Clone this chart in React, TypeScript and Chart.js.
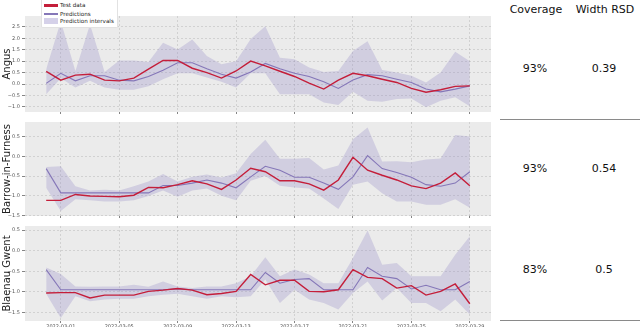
import React, { useEffect, useRef } from "react";
import { Chart, registerables } from "chart.js";

Chart.register(...registerables);

// ---------- data ----------
const dates = [
  "2022-02-28", "2022-03-01", "2022-03-02", "2022-03-03", "2022-03-04", "2022-03-05",
  "2022-03-06", "2022-03-07", "2022-03-08", "2022-03-09", "2022-03-10", "2022-03-11",
  "2022-03-12", "2022-03-13", "2022-03-14", "2022-03-15", "2022-03-16", "2022-03-17",
  "2022-03-18", "2022-03-19", "2022-03-20", "2022-03-21", "2022-03-22", "2022-03-23",
  "2022-03-24", "2022-03-25", "2022-03-26", "2022-03-27", "2022-03-28", "2022-03-29",
];
const xTickLabels = [
  "2022-03-01", "2022-03-05", "2022-03-09", "2022-03-13",
  "2022-03-17", "2022-03-21", "2022-03-25", "2022-03-29",
];

const angusTest = [0.55, 0.17, 0.39, 0.43, 0.17, 0.14, 0.26, 0.65, 1.03, 1.03, 0.69, 0.5, 0.26, 0.57, 1.0, 0.79, 0.56, 0.33, 0.04, -0.22, 0.17, 0.47, 0.36, 0.21, 0.07, -0.19, -0.36, -0.25, -0.1, -0.08];
const angusPred = [0.03, 0.47, 0.14, 0.36, 0.36, 0.17, 0.14, 0.33, 0.6, 0.93, 0.93, 0.67, 0.43, 0.26, 0.53, 0.9, 0.67, 0.47, 0.33, 0.1, -0.19, 0.18, 0.41, 0.36, 0.21, 0.07, -0.22, -0.34, -0.22, -0.08];
const angusLower = [-0.44, 0.25, -0.15, 0.14, -0.15, -0.25, -0.25, -0.1, 0.21, 0.47, 0.47, 0.29, 0.1, -0.15, 0.47, 0.47, -0.44, -0.44, -0.44, -0.8, -0.91, -0.34, -0.73, -0.77, -0.65, -0.63, -1.01, -0.73, -0.58, -0.97];
const angusUpper = [0.65, 2.74, 0.57, 2.6, 0.53, 1.03, 1.03, 0.96, 1.8, 1.51, 1.94, 1.22, 0.86, 1.0, 1.97, 2.52, 1.15, 1.08, 0.72, 0.53, 0.57, 1.44, 1.87, 0.61, 0.5, 0.36, 0.07, 0.5, 1.41, 1.0];

const barrowTest = [-1.12, -1.12, -0.97, -1.01, -1.02, -1.03, -0.99, -0.79, -0.8, -0.72, -0.62, -0.7, -0.84, -0.6, -0.3, -0.39, -0.62, -0.62, -0.7, -0.86, -0.6, -0.02, -0.35, -0.48, -0.6, -0.75, -0.82, -0.68, -0.42, -0.75];
const barrowPred = [-0.31, -0.93, -0.93, -0.93, -0.93, -0.93, -0.93, -0.93, -0.74, -0.74, -0.68, -0.6, -0.68, -0.8, -0.52, -0.25, -0.35, -0.53, -0.53, -0.68, -0.84, -0.52, 0.02, -0.31, -0.41, -0.53, -0.72, -0.76, -0.68, -0.39];
const barrowLower = [-0.8, -1.39, -1.09, -1.12, -1.15, -1.15, -1.12, -1.01, -0.87, -1.03, -0.87, -0.82, -1.0, -1.12, -0.62, -0.5, -0.75, -0.79, -0.82, -1.07, -1.34, -0.72, -0.64, -0.94, -1.15, -1.15, -1.23, -1.23, -1.09, -1.31];
const barrowUpper = [-0.27, -0.25, -0.76, -0.87, -0.85, -0.87, -0.76, -0.64, -0.45, -0.64, -0.52, -0.46, -0.54, -0.43, 0.06, 0.43, -0.06, -0.06, -0.04, -0.33, -0.23, 0.44, 0.74, -0.13, -0.12, -0.15, -0.08, -0.05, 0.55, 0.51];

const blaenauTest = [-1.03, -1.02, -1.02, -1.15, -1.08, -1.08, -1.08, -0.99, -0.96, -0.92, -0.96, -1.07, -1.04, -0.99, -0.58, -0.83, -0.72, -0.72, -0.99, -1.0, -0.95, -0.46, -0.65, -0.68, -0.91, -0.85, -1.08, -0.99, -0.81, -1.29];
const blaenauPred = [-0.46, -0.95, -0.95, -0.95, -0.95, -0.95, -0.95, -0.95, -0.95, -0.93, -0.95, -0.95, -0.95, -0.95, -0.95, -0.53, -0.79, -0.7, -0.68, -0.95, -0.95, -0.95, -0.41, -0.62, -0.68, -0.93, -0.84, -0.95, -0.95, -0.75];
const blaenauLower = [-1.05, -1.64, -1.11, -1.23, -1.19, -1.17, -1.17, -1.11, -1.07, -1.05, -1.11, -1.17, -1.11, -1.13, -1.11, -0.7, -1.27, -0.95, -1.19, -1.27, -1.43, -1.03, -0.75, -1.21, -0.91, -1.27, -1.27, -1.47, -1.19, -1.55];
const blaenauUpper = [-0.41, -0.57, -0.87, -0.88, -0.87, -0.87, -0.83, -0.88, -0.75, -0.87, -0.91, -0.87, -0.87, -0.79, -0.62, -0.16, -0.62, -0.46, -0.58, -0.79, -0.79, -0.18, 0.49, -0.34, -0.3, -0.62, -0.62, -0.62, -0.1, 0.35];

const angusYTicks = [-1.0, -0.5, 0.0, 0.5, 1.0, 1.5, 2.0, 2.5];
const barrowYTicks = [-1.5, -1.0, -0.5, 0.0, 0.5];
const blaenauYTicks = [-1.5, -1.0, -0.5, 0.0, 0.5];
const angusYRange = [-1.22, 2.97];
const barrowYRange = [-1.52, 0.88];
const blaenauYRange = [-1.71, 0.6];

const regionNames = ["Angus", "Barrow-in-Furness", "Blaenau Gwent"];
const coverage = ["93%", "93%", "83%"];
const widthRSD = ["0.39", "0.54", "0.5"];
const legendLabels = ["Test data", "Predictions", "Prediction intervals"];

// ---------- styles ----------
const RED = "#c41e3a";
const PURPLE = "#8577b8";
const BAND = "rgba(150, 140, 200, 0.3)";
const GRID = "rgba(160,160,160,0.42)";
const FONT = "'DejaVu Sans', sans-serif";

const bgPlugin = {
  id: "bgArea",
  beforeDraw(chart: any) {
    const { ctx, chartArea } = chart;
    ctx.save();
    ctx.fillStyle = "#ebebeb";
    ctx.fillRect(chartArea.left, chartArea.top, chartArea.right - chartArea.left, chartArea.bottom - chartArea.top);
    ctx.restore();
  },
};

const fmtY = (v: number) => v.toFixed(1).replace("-", "\u2212");
const toPts = (arr: number[]) => arr.map((v, i) => ({ x: i, y: v }));

type PanelProps = {
  title: string;
  test: number[];
  pred: number[];
  lower: number[];
  upper: number[];
  yTicks: number[];
  yRange: number[];
  showXLabels: boolean;
  top: number;
  height: number;
  padTop: number;
  xHeight: number;
};

function Panel(p: PanelProps) {
  const ref = useRef<HTMLCanvasElement | null>(null);
  useEffect(() => {
    if (!ref.current) return;
    const tickIdx = xTickLabels.map((l) => dates.indexOf(l));
    const chart = new Chart(ref.current, {
      type: "line",
      data: {
        datasets: [
          { label: "lower", data: toPts(p.lower), borderWidth: 0, borderColor: "rgba(0,0,0,0)", pointRadius: 0, fill: false, order: 3, tension: 0 },
          { label: "upper", data: toPts(p.upper), borderWidth: 0, borderColor: "rgba(0,0,0,0)", backgroundColor: BAND, pointRadius: 0, fill: "-1", order: 2, tension: 0 },
          { label: "pred", data: toPts(p.pred), borderColor: PURPLE, borderWidth: 1.1, pointRadius: 0, fill: false, order: 1, tension: 0 },
          { label: "test", data: toPts(p.test), borderColor: RED, borderWidth: 1.4, pointRadius: 0, fill: false, order: 0, tension: 0 },
        ],
      } as any,
      options: {
        animation: false,
        responsive: false,
        maintainAspectRatio: false,
        layout: { padding: { top: p.padTop, right: 9, left: 0, bottom: 0 } },
        plugins: { legend: { display: false }, tooltip: { enabled: false } },
        scales: {
          x: {
            type: "linear",
            min: -1.45,
            max: 30.45,
            afterBuildTicks: (s: any) => {
              s.ticks = tickIdx.map((v) => ({ value: v }));
            },
            afterFit: (s: any) => {
              s.height = p.xHeight;
            },
            ticks: {
              display: p.showXLabels,
              autoSkip: false,
              maxRotation: 0,
              padding: 1,
              color: "#555",
              font: { size: 5, family: FONT },
              callback: (v: any) => dates[Math.round(Number(v))],
            },
            grid: { color: GRID, lineWidth: 0.8, tickLength: 2, tickColor: "#666", tickWidth: 0.8 },
            border: { display: false, dash: [2, 2] },
          },
          y: {
            min: p.yRange[0],
            max: p.yRange[1],
            afterBuildTicks: (s: any) => {
              s.ticks = p.yTicks.map((v) => ({ value: v }));
            },
            afterFit: (s: any) => {
              s.width = 25;
            },
            ticks: {
              padding: 2,
              color: "#555",
              font: { size: 5, family: FONT },
              callback: (v: any) => fmtY(Number(v)),
            },
            grid: { color: GRID, lineWidth: 0.8, tickLength: 3, tickColor: "#666", tickWidth: 0.8 },
            border: { display: false, dash: [2, 2] },
            title: {
              display: true,
              text: p.title,
              color: "#222",
              font: { size: 10, family: FONT },
              padding: { top: 1, bottom: 0 },
            },
          },
        },
      } as any,
      plugins: [bgPlugin],
    });
    return () => chart.destroy();
  }, []);
  return (
    <div style={{ position: "absolute", left: 0, top: p.top, width: 500, height: p.height }}>
      <canvas ref={ref} width={500} height={p.height} style={{ width: 500, height: p.height, display: "block" }} />
    </div>
  );
}

const txt: React.CSSProperties = {
  position: "absolute",
  fontFamily: FONT,
  fontSize: 11,
  color: "#111",
  transform: "translate(-50%, -50%)",
  whiteSpace: "nowrap",
  lineHeight: "12px",
};

export default function App() {
  const rowsY = [69, 169, 270];
  return (
    <div style={{ position: "fixed", left: 0, top: 0, width: 640, height: 327, background: "#fff", overflow: "hidden" }}>
      <Panel title={regionNames[0]} test={angusTest} pred={angusPred} lower={angusLower} upper={angusUpper}
        yTicks={angusYTicks} yRange={angusYRange} showXLabels={false} top={0} height={117} padTop={16} xHeight={4} />
      <Panel title={regionNames[1]} test={barrowTest} pred={barrowPred} lower={barrowLower} upper={barrowUpper}
        yTicks={barrowYTicks} yRange={barrowYRange} showXLabels={false} top={117} height={104} padTop={3} xHeight={4} />
      <Panel title={regionNames[2]} test={blaenauTest} pred={blaenauPred} lower={blaenauLower} upper={blaenauUpper}
        yTicks={blaenauYTicks} yRange={blaenauYRange} showXLabels={true} top={221} height={106} padTop={4} xHeight={6} />

      {/* legend */}
      <div style={{ position: "absolute", left: 41, top: 0, width: 75, height: 27, background: "#fff", border: "1px solid #e2e2e2", borderTop: "none", borderRadius: "0 0 2px 2px", fontFamily: FONT, fontSize: 5.6, color: "#222" }}>
        <div style={{ position: "absolute", left: 2, top: 4, width: 14, height: 2.5, background: RED }} />
        <div style={{ position: "absolute", left: 18, top: 1, lineHeight: "8px" }}>{legendLabels[0]}</div>
        <div style={{ position: "absolute", left: 2, top: 12.5, width: 14, height: 2.5, background: PURPLE }} />
        <div style={{ position: "absolute", left: 18, top: 9.5, lineHeight: "8px" }}>{legendLabels[1]}</div>
        <div style={{ position: "absolute", left: 2, top: 18, width: 14, height: 6, background: "rgba(150,140,200,0.4)" }} />
        <div style={{ position: "absolute", left: 18, top: 17, lineHeight: "8px" }}>{legendLabels[2]}</div>
      </div>

      {/* table */}
      <div style={{ ...txt, left: 536, top: 10 }}>Coverage</div>
      <div style={{ ...txt, left: 605, top: 10 }}>Width RSD</div>
      {rowsY.map((y, i) => (
        <React.Fragment key={i}>
          <div style={{ ...txt, left: 535, top: y }}>{coverage[i]}</div>
          <div style={{ ...txt, left: 604, top: y }}>{widthRSD[i]}</div>
        </React.Fragment>
      ))}
      <div style={{ position: "absolute", left: 500, top: 119, width: 140, height: 1, background: "#8a8a8a" }} />
      <div style={{ position: "absolute", left: 500, top: 320, width: 140, height: 1, background: "#8a8a8a" }} />
    </div>
  );
}
